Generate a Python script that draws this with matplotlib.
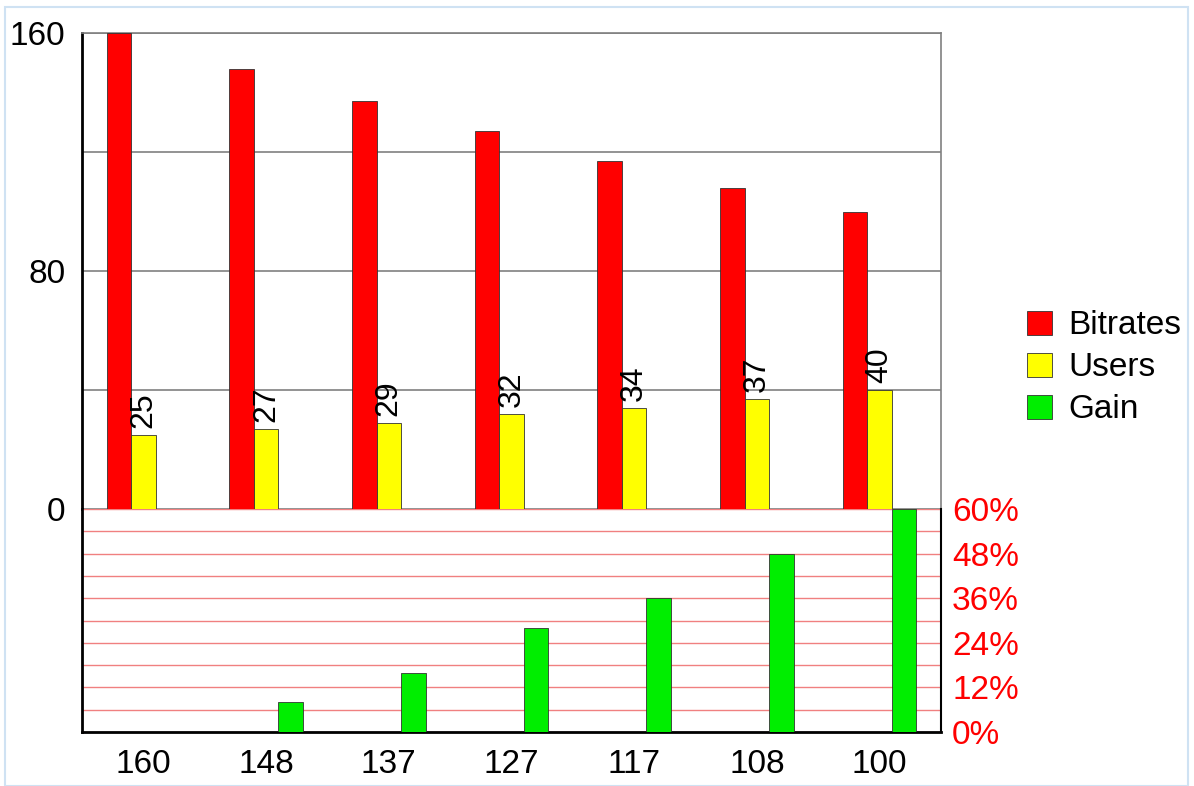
import numpy as np
import matplotlib
matplotlib.use('Agg')
import matplotlib.pyplot as plt
from matplotlib.patches import Rectangle, Patch

# data
categories = ['160', '148', '137', '127', '117', '108', '100']
bitrates = [160, 148, 137, 127, 117, 108, 100]
users = [25, 27, 29, 32, 34, 37, 40]
gain = [0, 8, 16, 28, 36, 48, 60]

plt.rcParams['font.family'] = ['Liberation Sans', 'DejaVu Sans']

W, H = 1194, 786
fig = plt.figure(figsize=(W / 100, H / 100), dpi=100)

# light blue frame around the whole picture
fig.patches.append(Rectangle((5 / W, 0), (1183) / W, (H - 7) / H,
                             transform=fig.transFigure, fill=False,
                             edgecolor='#cfe2f3', lw=1.5))

left, width = 82 / W, 859 / W
ax_top = fig.add_axes([left, (H - 509) / H, width, 476 / H])
ax_bot = fig.add_axes([left, (H - 732) / H, width, 223 / H])

x = np.arange(len(categories))
bw = 0.2
edge = '#333333'
fs = 24

ax_top.bar(x - bw, bitrates, bw, color='#ff0000', edgecolor=edge, lw=0.6, zorder=3)
ub = ax_top.bar(x, users, bw, color='#ffff00', edgecolor=edge, lw=0.6, zorder=3)
ax_top.bar_label(ub, labels=[str(u) for u in users], rotation=90, padding=5,
                 fontsize=23, zorder=4)
ax_top.set_xlim(-0.5, len(categories) - 0.5)
ax_top.set_ylim(0, 160)
ax_top.set_yticks([0, 80, 160])
ax_top.set_yticks([40, 120], minor=True)
ax_top.grid(axis='y', which='both', color='#808080', lw=1.2, zorder=1)
ax_top.tick_params(axis='y', which='both', length=0, labelsize=fs, pad=12)
ax_top.set_xticks([])
for s in ['top', 'right']:
    ax_top.spines[s].set_color('#808080')
    ax_top.spines[s].set_linewidth(1.2)
ax_top.spines['left'].set_linewidth(2)
ax_top.spines['bottom'].set_visible(False)

ax_bot.bar(x + bw, gain, bw, color='#00ee00', edgecolor=edge, lw=0.6, zorder=3)
ax_bot.set_xlim(-0.5, len(categories) - 0.5)
ax_bot.set_ylim(0, 60)
ax_bot.set_yticks([0, 12, 24, 36, 48, 60])
ax_bot.set_yticklabels(['0%', '12%', '24%', '36%', '48%', '60%'])
ax_bot.set_yticks(np.arange(6, 60, 12), minor=True)
ax_bot.yaxis.tick_right()
ax_bot.grid(axis='y', which='both', color='#f08080', lw=1, zorder=1)
ax_bot.tick_params(axis='y', which='both', length=0, labelsize=fs,
                   labelcolor='#ff0000', pad=8)
ax_bot.set_xticks(x)
ax_bot.set_xticklabels(categories)
ax_bot.tick_params(axis='x', length=0, labelsize=fs, pad=12)
ax_bot.spines['top'].set_visible(False)
ax_bot.spines['left'].set_linewidth(2)
ax_bot.spines['bottom'].set_linewidth(2)
ax_bot.spines['right'].set_linewidth(1.5)

handles = [Patch(facecolor='#ff0000', edgecolor=edge, lw=0.6, label='Bitrates'),
           Patch(facecolor='#ffff00', edgecolor=edge, lw=0.6, label='Users'),
           Patch(facecolor='#00ee00', edgecolor=edge, lw=0.6, label='Gain')]
fig.legend(handles=handles, loc='center left', bbox_to_anchor=(1027 / W, (H - 368) / H),
           frameon=False, fontsize=fs, handlelength=0.75, handleheight=0.75,
           handletextpad=0.5, labelspacing=0.33, borderpad=0, borderaxespad=0)

fig.savefig('out.png', dpi=100)
